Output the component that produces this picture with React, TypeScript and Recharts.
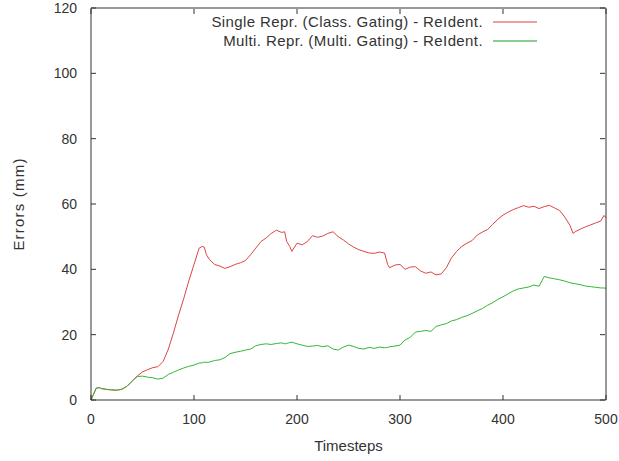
import { LineChart, Line, XAxis, YAxis, Label } from 'recharts';

const timesteps = [
  0, 5, 8, 10, 15, 20, 25, 30, 35, 40, 45, 50, 55, 60, 65, 70, 75, 80, 85, 90, 95, 100,
  105, 108, 110, 112, 115, 120, 125, 130, 135, 140, 145, 150, 155, 160, 165, 170, 175, 180,
  185, 188, 190, 193, 195, 200, 205, 210, 215, 220, 225, 230, 235, 240, 245, 250, 255, 260,
  265, 270, 275, 280, 285, 288, 290, 295, 300, 305, 310, 315, 320, 325, 330, 335, 340, 345,
  350, 355, 360, 365, 370, 375, 380, 385, 390, 395, 400, 405, 410, 415, 420, 425, 430, 435,
  440, 445, 450, 455, 460, 465, 468, 470, 475, 480, 485, 490, 495, 498, 500,
];

const singleRepr = [
  0, 3.6, 3.8, 3.5, 3.3, 3.1, 3.0, 3.3, 4.2, 5.8, 7.4, 8.6, 9.3, 9.9, 10.2, 11.8, 15.5, 20.5, 26.0, 31.0, 36.5, 41.5,
  46.5, 47.0, 46.8, 44.5, 43.0, 41.5, 41.0, 40.3, 40.8, 41.5, 42.0, 42.7, 44.5, 46.5, 48.5, 49.6, 51.0, 52.0,
  51.3, 51.5, 48.5, 47.0, 45.5, 48.0, 47.5, 48.5, 50.3, 49.8, 50.2, 51.0, 51.5, 50.0, 49.0, 47.8, 46.8, 46.0,
  45.5, 45.0, 44.9, 45.3, 45.0, 41.5, 40.5, 41.3, 41.5, 40.0, 40.7, 40.8, 39.5, 38.8, 39.2, 38.3, 38.6, 40.5,
  43.5, 45.5, 47.0, 48.0, 48.8, 50.5, 51.4, 52.2, 53.8, 55.3, 56.6, 57.5, 58.3, 58.9, 59.5, 59.0, 59.3, 58.6,
  59.2, 59.6, 58.8, 58.0, 56.0, 53.5, 51.0, 51.5, 52.3, 53.0, 53.6, 54.2, 54.8, 56.5, 55.8,
];

const multiRepr = [
  0, 3.6, 3.8, 3.5, 3.2, 3.1, 3.0, 3.3, 4.2, 5.8, 7.2, 7.3, 7.0, 6.8, 6.4, 6.7, 7.8, 8.5, 9.2, 9.8, 10.3, 10.7,
  11.3, 11.4, 11.6, 11.5, 11.6, 12.1, 12.3, 13.0, 14.2, 14.6, 14.9, 15.3, 15.6, 16.6, 17.0, 17.2, 17.0, 17.3,
  17.5, 17.2, 17.3, 17.6, 17.7, 17.2, 16.8, 16.4, 16.5, 16.7, 16.3, 16.6, 15.6, 15.3, 16.2, 16.8, 16.4, 15.8,
  15.6, 16.1, 15.8, 16.2, 16.0, 16.1, 16.3, 16.5, 16.8, 18.4, 19.2, 20.8, 21.0, 21.3, 21.0, 22.5, 23.0, 23.4,
  24.2, 24.6, 25.3, 25.8, 26.5, 27.3, 28.0, 29.0, 29.8, 30.8, 31.6, 32.5, 33.4, 34.0, 34.3, 34.6, 35.2, 34.8,
  37.8, 37.4, 37.1, 36.8, 36.4, 35.9, 35.7, 35.6, 35.3, 34.9, 34.7, 34.5, 34.3, 34.3, 34.2,
];

const xTicks = [0, 100, 200, 300, 400, 500];
const yTicks = [0, 20, 40, 60, 80, 100, 120];

const seriesNames = [
  'Single Repr. (Class. Gating) - ReIdent.',
  'Multi. Repr. (Multi. Gating) - ReIdent.',
];
const seriesColors = ['#e04444', '#33b833'];
const legendColors = ['#d84040', '#1f9a1f'];

const data = timesteps.map((t, i) => ({ t, single: singleRepr[i], multi: multiRepr[i] }));

const AXIS = '#333';
const TEXT = '#333';
const FONT = 'Liberation Sans, Arial, sans-serif';

const BottomTick = ({ x, y, payload }: any) => (
  <g>
    <line x1={x} y1={y} x2={x} y2={y - 5} stroke={AXIS} />
    <text x={x} y={y + 24} textAnchor="middle" fill={TEXT} fontSize={14} fontFamily={FONT}>
      {payload.value}
    </text>
  </g>
);

const TopTick = ({ x, y }: any) => <line x1={x} y1={y + 1} x2={x} y2={y + 6} stroke={AXIS} />;

const LeftTick = ({ x, y, payload }: any) => (
  <g>
    <line x1={x} y1={y} x2={x + 5} y2={y} stroke={AXIS} />
    <text x={x - 14} y={y + 5} textAnchor="end" fill={TEXT} fontSize={14} fontFamily={FONT}>
      {payload.value}
    </text>
  </g>
);

const RightTick = ({ x, y }: any) => <line x1={x - 1} y1={y} x2={x - 6} y2={y} stroke={AXIS} />;

export default function App() {
  return (
    <div style={{ position: 'absolute', left: 0, top: 0, width: 619, height: 461, background: '#fff' }}>
      <LineChart width={619} height={461} data={data} margin={{ top: 7, right: 12, bottom: 0, left: 0 }}>
        <XAxis
          dataKey="t"
          type="number"
          domain={[0, 500]}
          ticks={xTicks}
          height={61}
          tickSize={0}
          tickMargin={0}
          tickLine={false}
          axisLine={{ stroke: AXIS }}
          tick={<BottomTick />}
          interval={0}
        >
          <Label value="Timesteps" position="insideBottom" offset={10} fill={TEXT} fontSize={15} fontFamily={FONT} />
        </XAxis>
        <XAxis
          xAxisId="top"
          dataKey="t"
          type="number"
          orientation="top"
          domain={[0, 500]}
          ticks={xTicks}
          height={1}
          tickSize={0}
          tickMargin={0}
          tickLine={false}
          axisLine={{ stroke: AXIS }}
          tick={<TopTick />}
          interval={0}
        />
        <YAxis
          type="number"
          domain={[0, 120]}
          ticks={yTicks}
          width={91}
          tickSize={0}
          tickMargin={0}
          tickLine={false}
          axisLine={{ stroke: AXIS }}
          tick={<LeftTick />}
          interval={0}
        >
          <Label value="Errors (mm)" angle={-90} position="insideLeft" offset={19} fill={TEXT} fontSize={15} fontFamily={FONT} style={{ textAnchor: 'middle', letterSpacing: 1.2 }} />
        </YAxis>
        <YAxis
          yAxisId="right"
          orientation="right"
          type="number"
          domain={[0, 120]}
          ticks={yTicks}
          width={1}
          tickSize={0}
          tickMargin={0}
          tickLine={false}
          axisLine={{ stroke: AXIS }}
          tick={<RightTick />}
          interval={0}
        />
        <Line dataKey="single" name={seriesNames[0]} stroke={seriesColors[0]} strokeWidth={1} dot={false} isAnimationActive={false} />
        <Line dataKey="multi" name={seriesNames[1]} stroke={seriesColors[1]} strokeWidth={1} dot={false} isAnimationActive={false} />
        <Line xAxisId="top" yAxisId="right" dataKey="multi" stroke="none" dot={false} legendType="none" isAnimationActive={false} />
      </LineChart>
      <div style={{ position: 'absolute', top: 12, left: 100, width: 447, fontFamily: FONT, fontSize: 15, letterSpacing: 0.4, color: TEXT }}>
        {seriesNames.map((name, i) => (
          <div key={name} style={{ display: 'flex', alignItems: 'center', justifyContent: 'flex-end', height: 19 }}>
            <span>{name}</span>
            <svg width={54} height={10} style={{ marginLeft: 10 }}>
              <line x1={0} y1={5} x2={44} y2={5} stroke={legendColors[i]} strokeWidth={1} />
            </svg>
          </div>
        ))}
      </div>
    </div>
  );
}
